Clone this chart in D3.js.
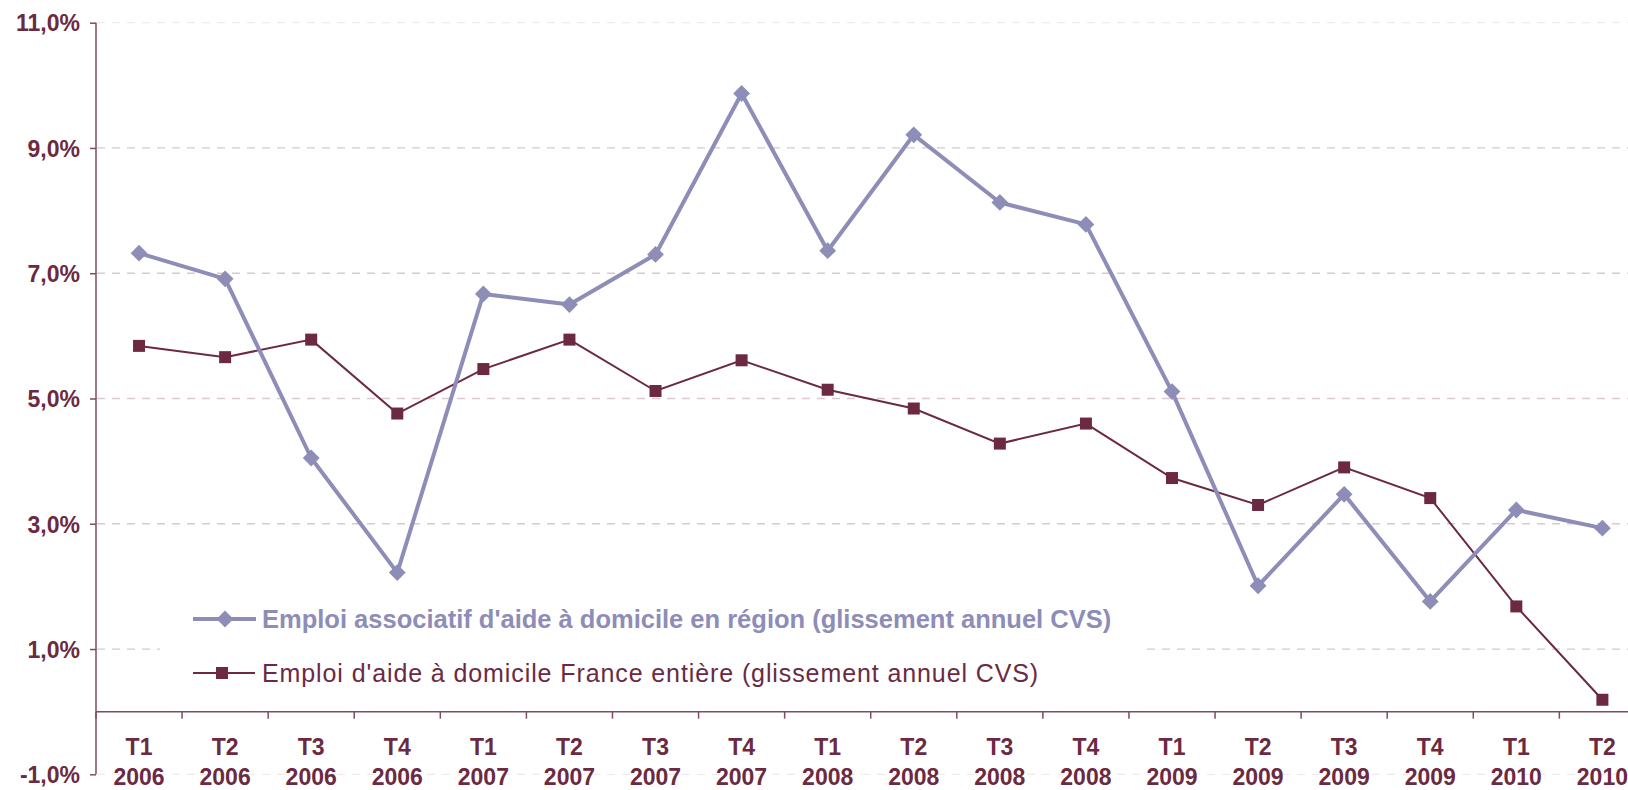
<!DOCTYPE html>
<html>
<head>
<meta charset="utf-8">
<script src="https://cdn.jsdelivr.net/npm/d3@7"></script>
<style>
  body { margin: 0; background: #fff; }
  svg { display: block; font-family: "Liberation Sans", Arial, sans-serif; }
</style>
</head>
<body>
<svg id="chart" width="1628" height="790"></svg>
<script>
// categories (quarter / year)
const quarters = ["T1","T2","T3","T4","T1","T2","T3","T4","T1","T2","T3","T4","T1","T2","T3","T4","T1","T2"];
const years = ["2006","2006","2006","2006","2007","2007","2007","2007","2008","2008","2008","2008","2009","2009","2009","2009","2010","2010"];

// glissement annuel CVS, en %
const regionValues = [7.32, 6.91, 4.05, 2.22, 6.67, 6.50, 7.30, 9.87, 7.36, 9.21, 8.13, 7.78, 5.11, 2.01, 3.47, 1.76, 3.22, 2.93];
const franceValues = [5.84, 5.66, 5.94, 4.76, 5.47, 5.94, 5.12, 5.61, 5.14, 4.84, 4.28, 4.60, 3.73, 3.30, 3.90, 3.41, 1.68, 0.19];

const yTicks = [-1, 1, 3, 5, 7, 9, 11];
const legendLabels = [
  "Emploi associatif d'aide à domicile en région (glissement annuel CVS)",
  "Emploi d'aide à domicile France entière (glissement annuel CVS)"
];

const maroon = "#6b2a42";
const lilac = "#8d8db8";
const axisColor = "#7e4d60";

const svg = d3.select("#chart");

const x = d3.scaleBand()
  .domain(d3.range(quarters.length))
  .range([96, 96 + 18 * 86.08]);

const y = d3.scaleLinear()
  .domain([-1, 11])
  .range([774.3, 22.7]);

// french format, plain hyphen for negatives
const fmt = v => (v < 0 ? "-" : "") + Math.abs(v).toFixed(1).replace(".", ",") + "%";

// gridlines
svg.append("g")
  .selectAll("line")
  .data(yTicks)
  .join("line")
  .attr("x1", 97)
  .attr("x2", 1628)
  .attr("y1", d => y(d))
  .attr("y2", d => y(d))
  .attr("stroke", d => (d === 11 || d === -1) ? "#f1e9ec" : "#dcc8cf")
  .attr("stroke-width", 1.3)
  .attr("stroke-dasharray", "8,7");

// y axis
const yAxis = svg.append("g")
  .attr("transform", "translate(96,0)")
  .call(d3.axisLeft(y).tickValues(yTicks).tickSize(6).tickFormat(fmt));
yAxis.select(".domain").attr("stroke", axisColor).attr("stroke-width", 1.5)
  .attr("d", "M0," + y(11) + "V" + y(-1));
yAxis.selectAll(".tick line").attr("stroke", axisColor).attr("stroke-width", 1.5);
yAxis.selectAll(".tick text")
  .attr("x", -16)
  .attr("dy", "0.36em")
  .attr("fill", maroon)
  .style("font-size", "23px")
  .style("font-weight", "bold");

// x axis at 0%
const xAxis = svg.append("g")
  .attr("transform", "translate(0," + y(0) + ")");
xAxis.append("line")
  .attr("x1", 96).attr("x2", 1628)
  .attr("stroke", axisColor).attr("stroke-width", 1.5);
xAxis.selectAll(".xt")
  .data(d3.range(quarters.length + 1))
  .join("line")
  .attr("class", "xt")
  .attr("x1", i => 96 + i * x.step())
  .attr("x2", i => 96 + i * x.step())
  .attr("y1", 0).attr("y2", 7)
  .attr("stroke", axisColor).attr("stroke-width", 1.5);

const xLabels = svg.append("g")
  .attr("fill", maroon)
  .style("font-size", "23px")
  .style("font-weight", "bold")
  .attr("text-anchor", "middle");
xLabels.selectAll(".q")
  .data(quarters)
  .join("text")
  .attr("x", (d, i) => x(i) + x.bandwidth() / 2)
  .attr("y", 755)
  .text(d => d);
xLabels.selectAll(".yr")
  .data(years)
  .join("text")
  .attr("x", (d, i) => x(i) + x.bandwidth() / 2)
  .attr("y", 785)
  .text(d => d);

// legend background (hides gridline)
svg.append("rect")
  .attr("x", 160).attr("y", 566)
  .attr("width", 985).attr("height", 134)
  .attr("fill", "#fff");

const cx = i => x(i) + x.bandwidth() / 2;

// France line
svg.append("path")
  .datum(franceValues)
  .attr("fill", "none")
  .attr("stroke", maroon)
  .attr("stroke-width", 2)
  .attr("d", d3.line().x((d, i) => cx(i)).y(d => y(d)));

// region line
svg.append("path")
  .datum(regionValues)
  .attr("fill", "none")
  .attr("stroke", lilac)
  .attr("stroke-width", 4)
  .attr("stroke-linejoin", "round")
  .attr("d", d3.line().x((d, i) => cx(i)).y(d => y(d)));

const diamond = d3.symbol().type(d3.symbolDiamond2).size(180);

svg.append("g")
  .selectAll("rect")
  .data(franceValues)
  .join("rect")
  .attr("x", (d, i) => cx(i) - 6)
  .attr("y", d => y(d) - 6)
  .attr("width", 12).attr("height", 12)
  .attr("fill", maroon);

svg.append("g")
  .selectAll("path")
  .data(regionValues)
  .join("path")
  .attr("transform", (d, i) => "translate(" + cx(i) + "," + y(d) + ")")
  .attr("d", diamond)
  .attr("fill", lilac);

// legend
const lg = svg.append("g");
lg.append("line").attr("x1", 193).attr("x2", 256).attr("y1", 619).attr("y2", 619)
  .attr("stroke", lilac).attr("stroke-width", 4);
lg.append("path").attr("transform", "translate(225,619)").attr("d", diamond).attr("fill", lilac);
lg.append("text").attr("x", 262).attr("y", 627.5)
  .attr("fill", lilac).style("font-size", "25.5px").style("font-weight", "bold")
  .text(legendLabels[0]);

lg.append("line").attr("x1", 193).attr("x2", 255).attr("y1", 673).attr("y2", 673)
  .attr("stroke", maroon).attr("stroke-width", 2);
lg.append("rect").attr("x", 216).attr("y", 667).attr("width", 12).attr("height", 12).attr("fill", maroon);
lg.append("text").attr("x", 262).attr("y", 682)
  .attr("fill", maroon).style("font-size", "25px").style("letter-spacing", "0.9px")
  .text(legendLabels[1]);
</script>
</body>
</html>
